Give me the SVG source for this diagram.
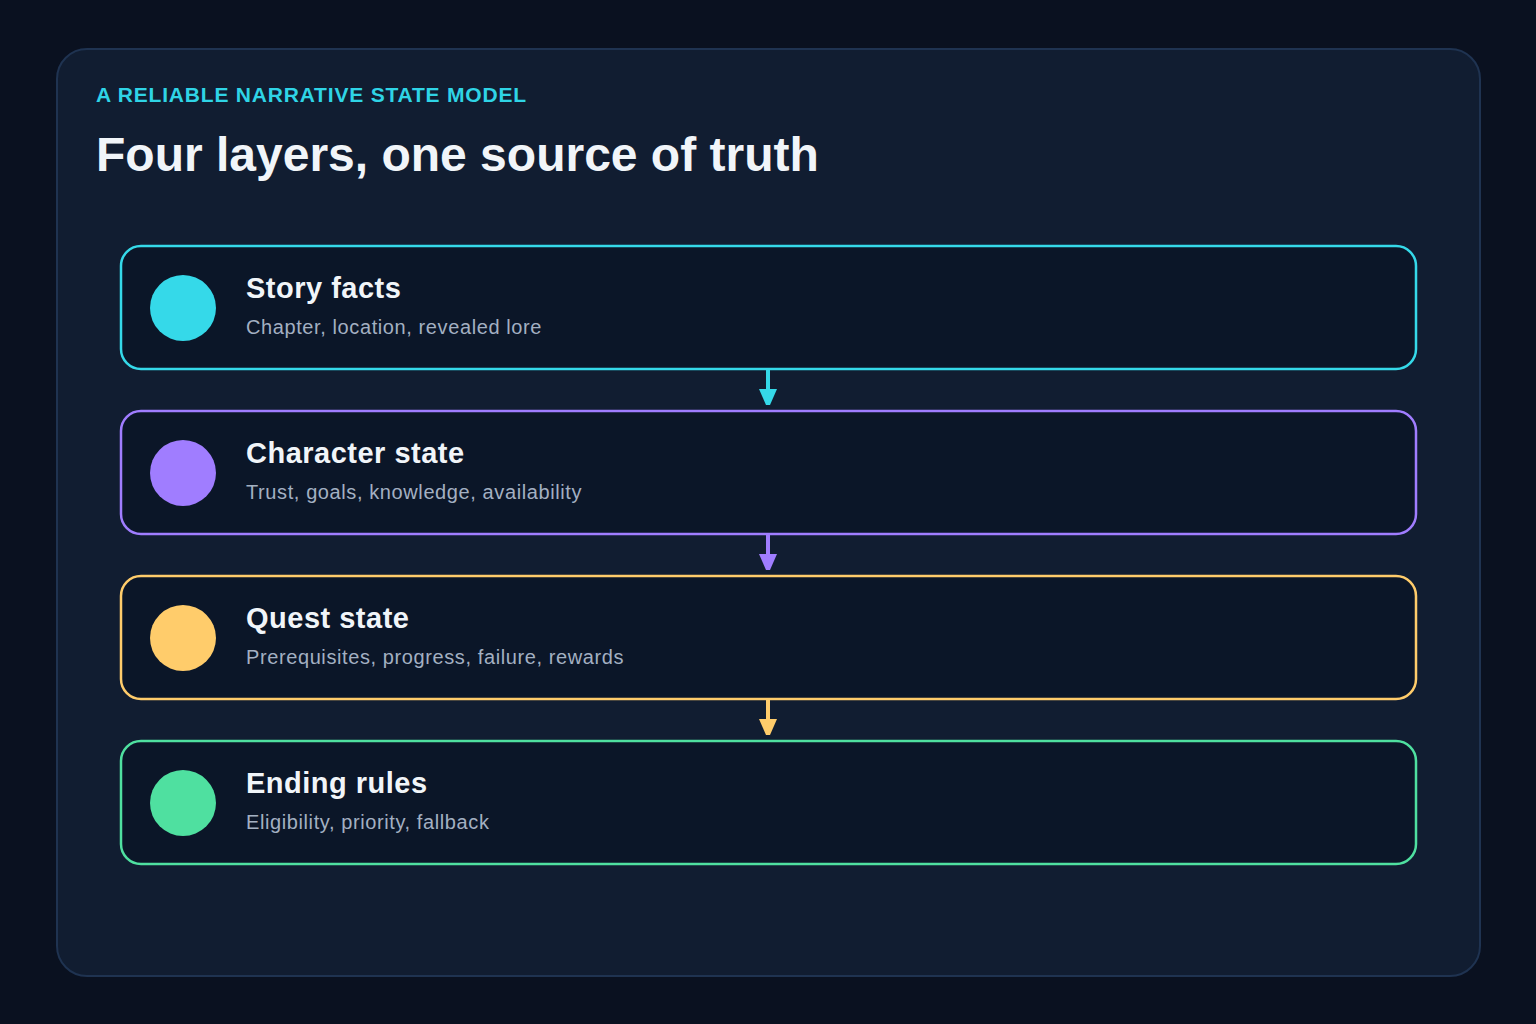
<svg xmlns="http://www.w3.org/2000/svg" width="1536" height="1024" viewBox="0 0 1536 1024">
<style>
.t{font-family:"Liberation Sans",Arial,sans-serif;font-weight:bold;font-size:29px;letter-spacing:0.5px;fill:#f1f5f9}
.s{font-family:"Liberation Sans",Arial,sans-serif;font-size:20px;letter-spacing:0.6px;fill:#a3b0c2}
.card{fill:#0b1628;stroke-width:2.5}
</style>
<rect width="1536" height="1024" fill="#0a1120"/>
<rect x="57" y="49" width="1423" height="927" rx="30" fill="#111d31" stroke="#1f3351" stroke-width="2"/>
<text x="96" y="102" font-family="Liberation Sans,Arial,sans-serif" font-weight="bold" font-size="21" letter-spacing="0.8" fill="#2fd4e6">A RELIABLE NARRATIVE STATE MODEL</text>
<text x="96" y="171" font-family="Liberation Sans,Arial,sans-serif" font-weight="bold" font-size="48" fill="#f1f5f9">Four layers, one source of truth</text>
<g id="connectors">
<line x1="768" y1="370" x2="768" y2="392" stroke="#35d9e9" stroke-width="4"/>
<polygon points="759,389 777,389 770,405 766,405" fill="#35d9e9"/>
<line x1="768" y1="535" x2="768" y2="557" stroke="#a07dff" stroke-width="4"/>
<polygon points="759,554 777,554 770,570 766,570" fill="#a07dff"/>
<line x1="768" y1="700" x2="768" y2="722" stroke="#ffcc6b" stroke-width="4"/>
<polygon points="759,719 777,719 770,735 766,735" fill="#ffcc6b"/>
</g>
<g id="story-facts">
<rect class="card" x="121" y="246" width="1295" height="123" rx="20" stroke="#35d9e9"/>
<circle cx="183" cy="308" r="33" fill="#35d9e9"/>
<text class="t" x="246" y="298">Story facts</text>
<text class="s" x="246" y="334">Chapter, location, revealed lore</text>
</g>
<g id="character-state">
<rect class="card" x="121" y="411" width="1295" height="123" rx="20" stroke="#a07dff"/>
<circle cx="183" cy="473" r="33" fill="#a07dff"/>
<text class="t" x="246" y="463">Character state</text>
<text class="s" x="246" y="499">Trust, goals, knowledge, availability</text>
</g>
<g id="quest-state">
<rect class="card" x="121" y="576" width="1295" height="123" rx="20" stroke="#ffcc6b"/>
<circle cx="183" cy="638" r="33" fill="#ffcc6b"/>
<text class="t" x="246" y="628">Quest state</text>
<text class="s" x="246" y="664">Prerequisites, progress, failure, rewards</text>
</g>
<g id="ending-rules">
<rect class="card" x="121" y="741" width="1295" height="123" rx="20" stroke="#4fe0a0"/>
<circle cx="183" cy="803" r="33" fill="#4fe0a0"/>
<text class="t" x="246" y="793">Ending rules</text>
<text class="s" x="246" y="829">Eligibility, priority, fallback</text>
</g>
</svg>
